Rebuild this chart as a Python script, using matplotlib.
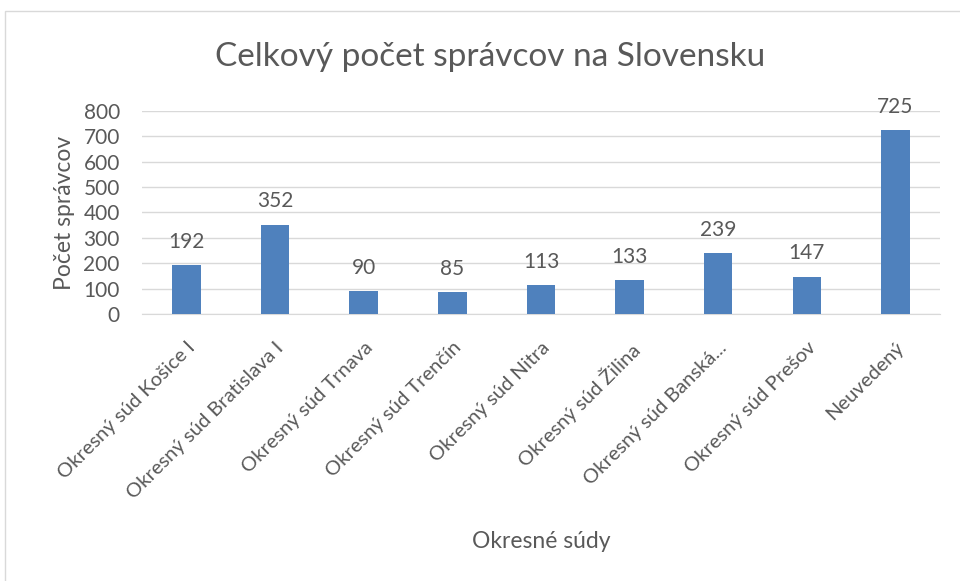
import matplotlib.pyplot as plt
from matplotlib.patches import Rectangle

# data
courts = ['Okresný súd Košice I', 'Okresný súd Bratislava I', 'Okresný súd Trnava',
          'Okresný súd Trenčín', 'Okresný súd Nitra', 'Okresný súd Žilina',
          'Okresný súd Banská...', 'Okresný súd Prešov', 'Neuvedený']
counts = [192, 352, 90, 85, 113, 133, 239, 147, 725]
yticks = [0, 100, 200, 300, 400, 500, 600, 700, 800]

plt.rcParams['font.family'] = ['Lato', 'DejaVu Sans']
txt = '#595959'
bar_col = '#4f81bd'

fig = plt.figure(figsize=(9.6, 5.81), dpi=100)
ax = fig.add_axes([0.148, 0.4596, 0.831, 0.3494])

x = list(range(len(courts)))
ax.bar(x, counts, width=0.32, color=bar_col, zorder=3)
for xi, v in zip(x, counts):
    ax.text(xi, v + 52, str(v), ha='center', va='bottom', fontsize=15, color=txt,
            clip_on=False)

ax.set_xlim(-0.5, len(courts) - 0.5)
ax.set_ylim(0, 800)
ax.set_yticks(yticks)
ax.set_yticklabels([str(t) for t in yticks], fontsize=15, color=txt)
ax.yaxis.grid(True, color='#d9d9d9', linewidth=1, zorder=0)
ax.set_xticks(x)
ax.set_xticklabels(courts, rotation=45, ha='right', rotation_mode='anchor',
                   fontsize=14.5, color=txt)
ax.tick_params(axis='both', length=0)
ax.tick_params(axis='x', pad=18)
ax.tick_params(axis='y', pad=16)
for s in ['top', 'right', 'left']:
    ax.spines[s].set_visible(False)
ax.spines['bottom'].set_color('#d9d9d9')

ax.set_ylabel('Počet správcov', fontsize=16.5, color=txt, labelpad=6)
fig.text(0.5635, 1 - 541 / 581, 'Okresné súdy', ha='center', va='center',
         fontsize=16.5, color=txt)
fig.text(0.511, 1 - 57 / 581, 'Celkový počet správcov na Slovensku', ha='center',
         va='center', fontsize=24, color=txt)

# chart border
fig.patches.append(Rectangle((5 / 960, -0.01), 1.0, 1 - 11 / 581 + 0.01,
                             transform=fig.transFigure, fill=False,
                             edgecolor='#d9d9d9', linewidth=1))

fig.savefig('out.png', dpi=100)
